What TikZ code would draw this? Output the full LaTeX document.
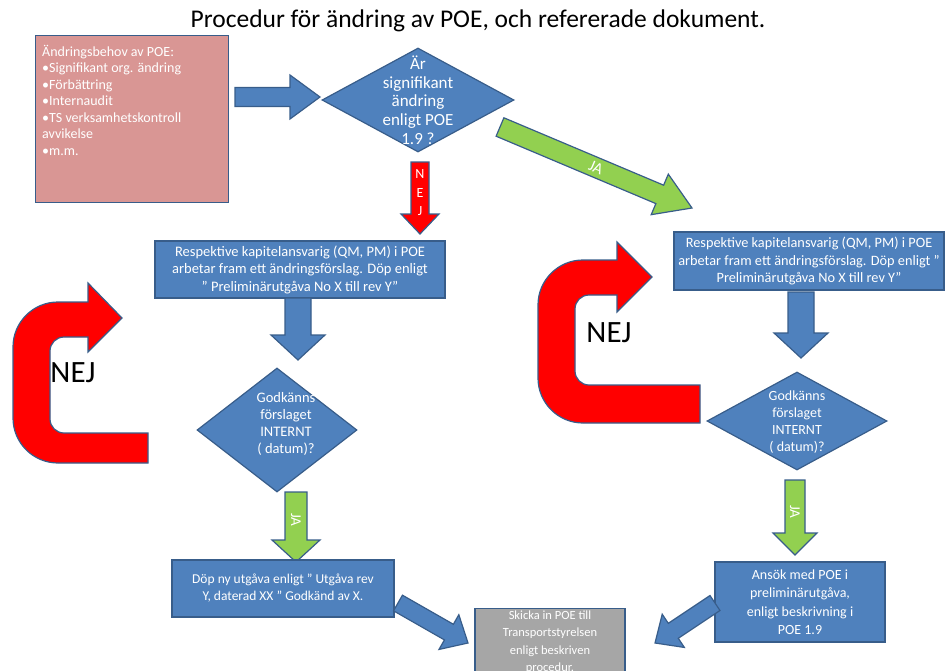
\documentclass[tikz,border=0pt]{standalone}
\usepackage{fontspec}
\setmainfont{Carlito}
\usetikzlibrary{shapes.geometric,calc}
\definecolor{blaa}{RGB}{79,129,189}
\definecolor{kant}{RGB}{56,93,138}
\definecolor{rosa}{RGB}{217,150,148}
\definecolor{roed}{RGB}{255,0,0}
\definecolor{groen}{RGB}{146,208,80}
\definecolor{graa}{RGB}{166,166,166}
\tikzset{
  ruta/.style={draw=kant,line width=1.2pt,fill=blaa,text=white,align=center,inner sep=2pt},
  romb/.style={diamond,draw=kant,line width=1.2pt,fill=blaa,inner sep=0pt},
  vittext/.style={text=white,align=center,inner sep=0pt},
  blaapil/.style={draw=kant,line width=1.2pt,fill=blaa,line join=miter},
  groenpil/.style={draw=kant,line width=1.2pt,fill=groen,line join=miter},
  roedpil/.style={draw=kant,line width=1.2pt,fill=roed,line join=miter},
  nejtext/.style={font=\fontsize{31}{34}\selectfont,inner sep=0pt}
}
% #1 stil, #2 start, #3 spets, #4 halv kropp, #5 halvt huvud, #6 huvudets langd
\newcommand{\blockpil}[6]{%
  \coordinate (hb) at ($(#3)!#6!(#2)$);
  \draw[#1] ($(#2)!#4!90:(#3)$) -- ($(hb)!#4!90:(#3)$) -- ($(hb)!#5!90:(#3)$) -- (#3)
    -- ($(hb)!#5!-90:(#3)$) -- ($(hb)!#4!-90:(#3)$) -- ($(#2)!#4!-90:(#3)$) -- cycle;}
\begin{document}
\begin{tikzpicture}[x=1pt,y=-1pt]
	\useasboundingbox (0,0) rectangle (946,670);
	\clip (0,0) rectangle (946,670);
	\node (titel) at (478,21) {\fontsize{25.5}{30}\selectfont Procedur för ändring av POE, och refererade dokument.};
	% start
	\node[ruta,fill=rosa,minimum width=193pt,minimum height=167pt,anchor=north west] (behov) at (35,35) {};
	\node[anchor=north west,text=white,align=left,inner sep=0pt,font=\fontsize{14}{16.5}\selectfont] (behovtext) at (42,45)
		{Ändringsbehov  av POE:\\•Signifikant org. ändring\\•Förbättring\\•Internaudit\\•TS verksamhetskontroll\\avvikelse\\•m.m.};
	\coordinate (p1a) at (235,97);
	\coordinate (p1b) at (320,97);
	\blockpil{blaapil}{p1a}{p1b}{9.5pt}{22pt}{30pt}
	\node[romb,minimum width=192pt,minimum height=104pt] (signif) at (418,100) {};
	\node[vittext,font=\fontsize{17}{18.7}\selectfont] (signiftext) at (418,100) {Är\\signifikant\\ändring\\enligt POE\\1.9 ?};
	% NEJ nedat
	\coordinate (p2a) at (420,162);
	\coordinate (p2b) at (420,234);
	\blockpil{roedpil}{p2a}{p2b}{9pt}{19pt}{20pt}
	\node[vittext,font=\fontsize{14}{18.5}\selectfont] (nejned) at (420,193) {N\\E\\J};
	% JA snett
	\coordinate (p3a) at (500,127);
	\coordinate (p3b) at (692,208);
	\blockpil{groenpil}{p3a}{p3b}{10pt}{22pt}{35pt}
	\node[vittext,rotate=-23,font=\fontsize{16}{18}\selectfont] (jasnett) at ($(p3a)!0.5!(p3b)$) {JA};
	% vanster gren
	\node[ruta,minimum width=290pt,minimum height=57pt,font=\fontsize{14.5}{17.5}\selectfont] (ansvarL) at (300,269.5)
		{Respektive kapitelansvarig  (QM, PM) i POE\\arbetar fram ett ändringsförslag. Döp enligt\\” Preliminärutgåva No X till rev Y”};
	\coordinate (p4a) at (298,298);
	\coordinate (p4b) at (298,360);
	\blockpil{blaapil}{p4a}{p4b}{13pt}{27pt}{25pt}
	\node[romb,minimum width=160pt,minimum height=124pt] (godkL) at (277,430) {};
	\node[vittext,font=\fontsize{14.5}{17}\selectfont] (godkLtext) at (286,424) {Godkänns\\förslaget\\INTERNT\\( datum)?};
	\coordinate (p5a) at (296,492);
	\coordinate (p5b) at (296,562);
	\blockpil{groenpil}{p5a}{p5b}{11pt}{24pt}{22pt}
	\node[vittext,rotate=-90,font=\fontsize{15}{17}\selectfont] (jaL) at (296,520) {JA};
	\node[ruta,minimum width=222pt,minimum height=57pt,font=\fontsize{13.5}{17}\selectfont] (doepL) at (283,588.5)
		{Döp ny utgåva enligt ” Utgåva rev\\Y, daterad XX ” Godkänd  av X.};
	\coordinate (p6a) at (398,603);
	\coordinate (p6b) at (468,643);
	\blockpil{blaapil}{p6a}{p6b}{9pt}{20pt}{22pt}
	% NEJ vanster
	\draw[roedpil] (148,463) [rounded corners=45pt] -- (13,463) -- (13,302) [sharp corners] -- (88,302) -- (88,283)
		-- (122,318) -- (88,352) -- (88,337) [rounded corners=14pt] -- (50,337) -- (50,433) [sharp corners] -- (148,433) -- cycle;
	\node[nejtext] (nejL) at (73,373) {NEJ};
	% slut
	\node[ruta,fill=graa,minimum width=150pt,minimum height=67pt,font=\fontsize{12.5}{17.5}\selectfont,anchor=north] (skicka) at (550,608)
		{Skicka in POE till\\Transportstyrelsen\\enligt beskriven\\procedur.};
	% hoger gren
	\node[ruta,minimum width=270pt,minimum height=58pt,font=\fontsize{14.3}{17.5}\selectfont] (ansvarR) at (809,261)
		{Respektive kapitelansvarig  (QM, PM) i POE\\arbetar fram ett ändringsförslag. Döp enligt ”\\Preliminärutgåva No X till rev Y”};
	\coordinate (p7a) at (801,292);
	\coordinate (p7b) at (801,358);
	\blockpil{blaapil}{p7a}{p7b}{13pt}{27pt}{25pt}
	\node[romb,minimum width=180pt,minimum height=98pt] (godkR) at (797,421) {};
	\node[vittext,font=\fontsize{14}{17}\selectfont] (godkRtext) at (797,422) {Godkänns\\förslaget\\INTERNT\\( datum)?};
	\coordinate (p8a) at (795,480);
	\coordinate (p8b) at (795,555);
	\blockpil{groenpil}{p8a}{p8b}{10pt}{22pt}{22pt}
	\node[vittext,rotate=-90,font=\fontsize{15}{17}\selectfont] (jaR) at (795,512) {JA};
	\node[ruta,minimum width=170pt,minimum height=80pt,font=\fontsize{14}{18.5}\selectfont] (ansok) at (800,602)
		{Ansök  med POE i\\preliminärutgåva,\\enligt beskrivning  i\\POE 1.9};
	\coordinate (p9a) at (715,603);
	\coordinate (p9b) at (655,643);
	\blockpil{blaapil}{p9a}{p9b}{9pt}{20pt}{22pt}
	% NEJ hoger
	\draw[roedpil] (700,423) [rounded corners=45pt] -- (538,423) -- (538,260) [sharp corners] -- (617,260) -- (617,242)
		-- (652,277) -- (617,312) -- (617,295) [rounded corners=14pt] -- (575,295) -- (575,385) [sharp corners] -- (700,385) -- cycle;
	\node[nejtext] (nejR) at (609,333) {NEJ};
\end{tikzpicture}
\end{document}
